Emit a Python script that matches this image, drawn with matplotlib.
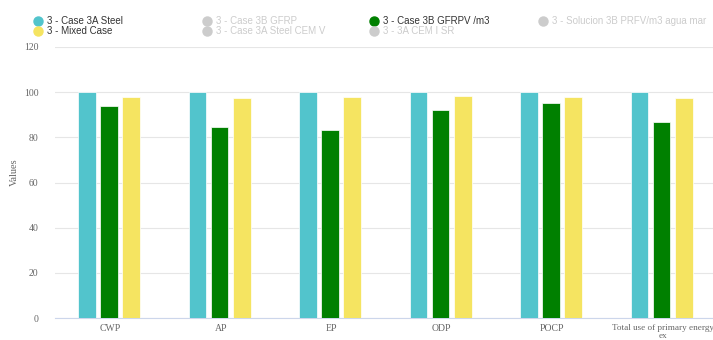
import numpy as np
import matplotlib.pyplot as plt

categories = ['CWP', 'AP', 'EP', 'ODP', 'POCP', 'Total use of primary energy\nex']
steel_3a = [100, 100, 100, 100, 100, 100]
gfrpv_3b = [94.0, 84.4, 83.3, 92.0, 95.1, 86.9]
mixed = [97.7, 97.3, 98.0, 98.3, 97.9, 97.3]

legend_names = [
    ['3 - Case 3A Steel', '3 - Case 3B GFRP', '3 - Case 3B GFRPV /m3', '3 - Solucion 3B PRFV/m3 agua mar'],
    ['3 - Mixed Case', '3 - Case 3A Steel CEM V', '3 - 3A CEM I SR', None],
]
legend_colors = [
    ['#52c4cc', '#cccccc', '#008000', '#cccccc'],
    ['#f5e461', '#cccccc', '#cccccc', None],
]
legend_active = [[True, False, True, False], [True, False, False, None]]


def make_chart():
    fig = plt.figure(figsize=(7.13, 3.4), dpi=100)
    ax = fig.add_axes([55 / 713, 22 / 340, 663 / 713, 271 / 340])

    x = np.arange(len(categories))
    w = 0.16
    step = 0.2
    ax.bar(x - step - 0.01, steel_3a, w, color='#52c4cc', edgecolor='white', linewidth=0.5, zorder=3)
    ax.bar(x - 0.01, gfrpv_3b, w, color='#008000', edgecolor='white', linewidth=0.5, zorder=3)
    ax.bar(x + step - 0.01, mixed, w, color='#f5e461', edgecolor='white', linewidth=0.5, zorder=3)

    ax.set_xlim(-0.5, len(categories) - 0.5)
    ax.set_ylim(0, 120)
    ax.set_yticks(np.arange(0, 121, 20))
    ax.set_xticks(x)
    ax.set_xticklabels(categories, fontsize=7, color='#666666', family='Liberation Serif', linespacing=0.95)
    ax.get_xticklabels()[-1].set_fontsize(6.6)
    for lbl in ax.get_yticklabels():
        lbl.set_fontsize(7)
        lbl.set_color('#666666')
        lbl.set_family('Liberation Serif')
    ax.tick_params(axis='both', length=0)
    ax.tick_params(axis='y', pad=12)
    ax.tick_params(axis='x', pad=4.5)
    ax.grid(axis='y', color='#e6e6e6', linewidth=0.8, zorder=0)
    for s in ['top', 'right', 'left']:
        ax.spines[s].set_visible(False)
    ax.spines['bottom'].set_color('#ccd6eb')
    ax.spines['bottom'].set_linewidth(0.8)

    fig.text(14 / 713, 1 - 172 / 340, 'Values', rotation=90, ha='center', va='center',
             fontsize=7.5, color='#666666', family='Liberation Serif')

    # legend drawn by hand in the Highcharts layout
    col_x = [38, 207, 374, 543]
    row_y = [20.5, 31]
    for r, row in enumerate(legend_names):
        for c, name in enumerate(row):
            if name is None:
                continue
            mx = col_x[c] / 713
            my = 1 - row_y[r] / 340
            fig.lines.append(plt.Line2D([mx], [my], marker='o', markersize=6.5,
                                        color=legend_colors[r][c], linestyle='none',
                                        transform=fig.transFigure))
            fig.text(mx + 9 / 713, my, name, ha='left', va='center', fontsize=7,
                     family='Liberation Sans',
                     color='#333333' if legend_active[r][c] else '#cccccc')

    fig.savefig('out.png', dpi=100)


if __name__ == "__main__":
    make_chart()
